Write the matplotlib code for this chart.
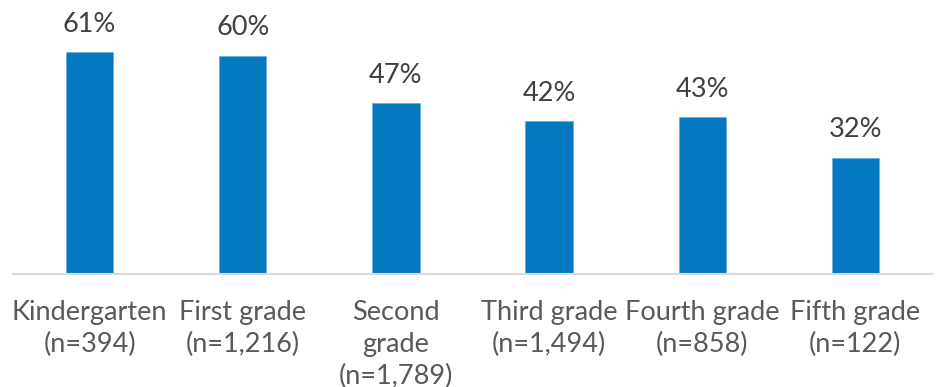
import numpy as np
import matplotlib.pyplot as plt
import matplotlib as mpl

mpl.rcParams['font.family'] = ['Lato', 'DejaVu Sans']

grades = ['Kindergarten\n(n=394)', 'First grade\n(n=1,216)', 'Second\ngrade\n(n=1,789)',
          'Third grade\n(n=1,494)', 'Fourth grade\n(n=858)', 'Fifth grade\n(n=122)']
pct = [61, 60, 47, 42, 43, 32]

W, H = 937, 387
fig = plt.figure(figsize=(W / 100, H / 100), dpi=100)
ax = fig.add_axes([13 / W, (H - 274) / H, (932 - 13) / W, 274 / H])

x = np.arange(len(grades))
bars = ax.bar(x, pct, width=0.31, color='#0479C1', edgecolor='#5AA9DD', linewidth=0.4, zorder=2)

for bar, v in zip(bars, pct):
    ax.text(bar.get_x() + bar.get_width() / 2, v + 4.2, f'{v}%',
            ha='center', va='bottom', fontsize=19.5, color='#404040')

ax.set_xlim(-0.5, len(grades) - 0.5)
ax.set_ylim(0, 274 / 3.64)
ax.set_yticks([])
ax.set_xticks(x)
ax.set_xticklabels(grades, fontsize=19.5, color='#595959', linespacing=1.33)
ax.tick_params(axis='x', length=0, pad=19)

for s in ['top', 'right', 'left']:
    ax.spines[s].set_visible(False)
ax.spines['bottom'].set_color('#D9D9D9')
ax.spines['bottom'].set_linewidth(1.5)

fig.savefig('out.png', dpi=100)
